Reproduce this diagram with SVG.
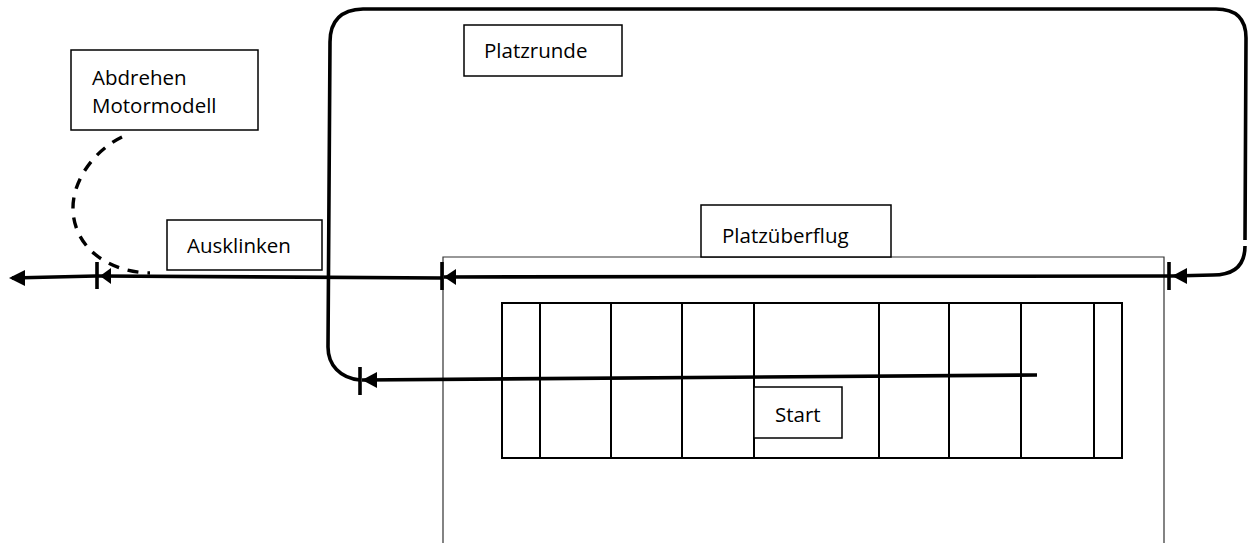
<svg xmlns="http://www.w3.org/2000/svg" width="1253" height="543" viewBox="0 0 1253 543">
<style>
.box{fill:#fff;stroke:#000;stroke-width:1.5}
.lbl{font-family:"Open Sans","Liberation Sans",sans-serif;font-size:20.5px;fill:#000}
.grid{fill:none;stroke:#000;stroke-width:2}
.thin{fill:none;stroke:#333;stroke-width:1.2}
.path{fill:none;stroke:#000;stroke-width:3.6;stroke-linecap:butt}
.tick{stroke:#000;stroke-width:3.6}
.head{fill:#000}
</style>
<rect width="1253" height="543" fill="#fff"/>
<g id="airfield">
<polyline class="thin" points="443,543 443,257 1164,257 1164,543"/>
</g>
<g id="runway">
<rect class="grid" x="502" y="303" width="620" height="155"/>
<path class="grid" d="M540 303V458M611 303V458M682 303V458M754 303V458M879 303V458M949 303V458M1021 303V458M1094 303V458"/>
</g>
<g id="connectors">
<path class="path" d="M1037 375 L362 380"/>
<path class="path" d="M360 380 C340 378 328 365 328 347 L330 42 Q330 10 363 9 L1216 9 Q1246 9 1246 38 L1245 240"/>
<path class="path" d="M1245 246 Q1245 275 1213 275 L1172 276"/>
<path class="path" d="M1172 276 L444 277"/>
<path class="path" d="M442 278 L98 276"/>
<path class="path" d="M96 276 L12 278"/>
<path fill="none" stroke="#000" stroke-width="3.4" stroke-dasharray="11,9" d="M122 137 C95 150 72 180 73 210 C74 245 105 272 150 273"/>
<line class="tick" x1="360" y1="367" x2="360" y2="395"/>
<polygon class="head" points="362,380 377,372 377,388"/>
<line class="tick" x1="1169" y1="262" x2="1169" y2="290"/>
<polygon class="head" points="1172,276 1187,268 1187,284"/>
<line class="tick" x1="442" y1="262" x2="442" y2="290"/>
<polygon class="head" points="444,277 456,269 456,285"/>
<line class="tick" x1="97" y1="262" x2="97" y2="289"/>
<polygon class="head" points="100,276 111,268 111,284"/>
<polygon class="head" points="9,278 25,270 25,286"/>
</g>
<g id="platzrunde">
<rect class="box" x="464" y="25" width="158" height="51"/>
<text class="lbl" x="484" y="58">Platzrunde</text>
</g>
<g id="abdrehen">
<rect class="box" x="71" y="50" width="187" height="80"/>
<text class="lbl" x="92" y="85">Abdrehen</text>
<text class="lbl" x="92" y="113">Motormodell</text>
</g>
<g id="ausklinken">
<rect class="box" x="167" y="220" width="155" height="50"/>
<text class="lbl" x="187" y="253">Ausklinken</text>
</g>
<g id="platzueberflug">
<rect class="box" x="701" y="205" width="190" height="52"/>
<text class="lbl" x="722" y="243">Platzüberflug</text>
</g>
<g id="start">
<rect class="box" x="754" y="387" width="88" height="51"/>
<text class="lbl" x="775" y="422">Start</text>
</g>
</svg>
